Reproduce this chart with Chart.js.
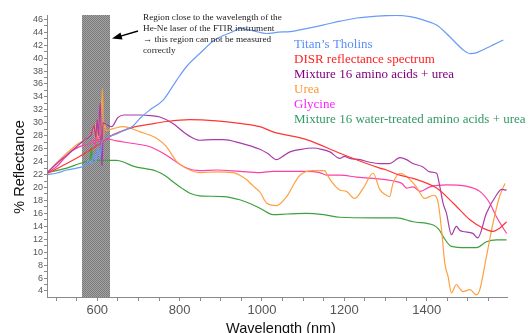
<!DOCTYPE html>
<html>
<head>
<meta charset="utf-8">
<title>Reflectance spectra</title>
<script src="https://cdn.jsdelivr.net/npm/chart.js@4.4.1/dist/chart.umd.min.js"></script>
<style>
  html, body { margin: 0; padding: 0; background: #fff; }
  #chart { display: block; }
</style>
</head>
<body>
<canvas id="chart" width="531" height="333"></canvas>
<script>
// series labels (legend order)
var seriesLabels = [
    'Titan\u2019s Tholins',
    'DISR reflectance spectrum',
    'Mixture 16 amino acids + urea',
    'Urea',
    'Glycine',
    'Mixture 16 water-treated amino acids + urea'
];

// Titan's Tholins
var tholinsX = [480, 500, 526, 550, 570, 580, 586, 592, 597, 602, 607, 611, 615, 640, 665, 687, 704, 728, 760, 793, 817, 849, 885, 930, 946, 980, 1011, 1040, 1068, 1110, 1148, 1190, 1230, 1280, 1327, 1360, 1391, 1424, 1456, 1488, 1505, 1520, 1537, 1560, 1586];
var tholinsY = [22.0, 22.2, 22.7, 23.0, 23.4, 24.2, 23.5, 25.2, 24.0, 26.2, 24.6, 27.0, 27.4, 28.1, 28.8, 29.5, 30.7, 32.0, 33.5, 36.6, 38.7, 40.7, 42.8, 44.1, 44.6, 44.2, 43.8, 44.0, 44.1, 44.6, 45.1, 45.7, 46.2, 46.5, 46.6, 46.4, 45.9, 45.1, 43.3, 41.3, 40.7, 40.8, 41.3, 42.0, 42.8];

// DISR reflectance spectrum
var disrX = [480, 520, 560, 590, 607, 631, 655, 687, 730, 768, 825, 890, 946, 995, 1027, 1108, 1189, 1254, 1286, 1302, 1335, 1367, 1424, 1464, 1505, 1537, 1561, 1577, 1594];
var disrY = [22.2, 23.5, 24.9, 26.1, 26.8, 27.9, 28.6, 29.3, 29.8, 30.2, 30.5, 30.3, 29.9, 29.4, 28.6, 27.4, 25.3, 23.7, 23.0, 22.7, 21.9, 21.4, 19.9, 17.6, 15.0, 13.7, 13.2, 13.7, 14.7];

// Mixture 16 amino acids + urea
var mixX = [480, 500, 526, 550, 570, 585, 592, 596, 600, 603, 606, 608, 610, 612, 614, 620, 635, 650, 665, 704, 730, 752, 784, 805, 825, 849, 880, 906, 946, 995, 1015, 1035, 1050, 1068, 1095, 1124, 1145, 1165, 1189, 1200, 1213, 1238, 1262, 1286, 1310, 1335, 1351, 1367, 1390, 1408, 1424, 1432, 1440, 1448, 1460, 1472, 1480, 1488, 1512, 1524, 1545, 1569, 1582, 1594];
var mixY = [22.4, 23.6, 25.0, 26.3, 27.4, 28.2, 29.6, 27.8, 30.5, 28.0, 32.0, 33.0, 25.0, 23.4, 30.0, 29.8, 29.4, 30.8, 31.2, 31.2, 31.1, 30.9, 29.9, 28.8, 27.9, 27.3, 27.4, 27.4, 26.9, 25.9, 25.2, 24.3, 24.8, 25.5, 25.9, 26.1, 25.9, 25.5, 24.5, 24.8, 24.5, 24.3, 23.9, 23.7, 23.7, 24.6, 24.3, 23.7, 23.2, 22.4, 22.2, 20.1, 17.5, 16.0, 12.7, 14.0, 13.4, 13.2, 12.9, 12.2, 16.0, 18.8, 19.7, 19.6];

// Urea
var ureaX = [480, 501, 526, 550, 574, 586, 590, 594, 598, 602, 605, 608, 611, 613, 615, 617, 622, 639, 663, 704, 744, 768, 793, 825, 849, 890, 930, 946, 963, 979, 995, 1011, 1035, 1060, 1080, 1092, 1124, 1152, 1160, 1169, 1189, 1205, 1225, 1246, 1270, 1286, 1302, 1310, 1318, 1335, 1351, 1375, 1395, 1416, 1428, 1436, 1444, 1452, 1460, 1472, 1480, 1488, 1505, 1521, 1529, 1545, 1561, 1577, 1590];
var ureaY = [22.4, 23.8, 25.3, 26.6, 27.6, 28.4, 29.5, 27.8, 30.2, 27.5, 31.0, 28.0, 33.0, 35.3, 27.3, 30.0, 28.8, 29.1, 29.4, 28.6, 27.6, 26.3, 24.0, 22.7, 22.3, 22.4, 22.3, 21.9, 21.2, 20.2, 19.3, 17.6, 17.2, 18.6, 20.8, 21.9, 22.6, 22.6, 21.8, 20.9, 19.6, 19.4, 18.3, 19.9, 22.2, 19.7, 18.8, 18.6, 20.6, 22.2, 21.7, 20.1, 18.3, 18.8, 17.6, 13.5, 8.3, 6.2, 3.7, 5.0, 4.4, 3.9, 4.2, 3.4, 4.2, 9.3, 14.5, 18.6, 20.6];

// Glycine
var glyX = [480, 501, 520, 542, 565, 582, 590, 595, 598, 602, 606, 610, 615, 647, 687, 728, 760, 784, 817, 849, 890, 946, 995, 1027, 1108, 1140, 1157, 1189, 1230, 1270, 1300, 1327, 1340, 1351, 1367, 1384, 1408, 1448, 1496, 1529, 1553, 1569, 1594];
var glyY = [22.3, 23.2, 24.5, 25.8, 26.5, 26.8, 27.3, 26.6, 28.2, 27.0, 29.5, 26.0, 27.6, 27.2, 26.8, 26.3, 25.3, 24.3, 23.0, 22.6, 22.7, 22.5, 22.3, 22.5, 22.5, 22.3, 21.9, 21.9, 21.6, 21.4, 21.2, 20.9, 20.6, 19.9, 20.1, 19.4, 20.1, 20.4, 20.2, 19.4, 17.6, 15.5, 12.9];

// Mixture 16 water-treated amino acids + urea
var waterX = [480, 500, 526, 558, 575, 582, 586, 588, 590, 600, 620, 647, 665, 687, 744, 765, 784, 805, 825, 849, 906, 946, 975, 995, 1027, 1060, 1108, 1150, 1189, 1270, 1327, 1367, 1416, 1430, 1440, 1460, 1496, 1521, 1545, 1569, 1594];
var waterY = [22.3, 22.6, 23.0, 23.7, 24.0, 24.2, 26.1, 24.2, 24.2, 24.2, 24.2, 24.2, 23.9, 23.3, 22.5, 21.8, 20.9, 19.9, 19.1, 18.7, 18.6, 18.1, 17.4, 16.8, 15.8, 15.9, 16.0, 15.8, 15.4, 15.3, 15.3, 14.7, 14.2, 13.5, 12.4, 10.9, 10.7, 10.7, 11.6, 11.9, 11.9];

// region of the He-Ne laser (nm)
var laserBand = [564, 633];

var lineColors = ['#6a9cf6', '#ff3636', '#a83ca8', '#ffa040', '#ff3fa6', '#3fa03f'];
var textColors = ['#5b8ff9', '#ff2020', '#800080', '#ff9933', '#ff22ff', '#339966'];

function pts(xs, ys) {
    var out = [];
    for (var i = 0; i < xs.length; i++) out.push({ x: xs[i], y: ys[i] });
    return out;
}

var allX = [tholinsX, disrX, mixX, ureaX, glyX, waterX];
var allY = [tholinsY, disrY, mixY, ureaY, glyY, waterY];
var datasets = [];
for (var i = 0; i < seriesLabels.length; i++) {
    datasets.push({
        label: seriesLabels[i],
        data: pts(allX[i], allY[i]),
        borderColor: lineColors[i],
        backgroundColor: lineColors[i],
        borderWidth: 1.2,
        pointRadius: 0,
        cubicInterpolationMode: 'monotone',
        fill: false
    });
}

// checkered grey pattern for the laser band
function makePattern(ctx) {
    var c = document.createElement('canvas');
    c.width = 2; c.height = 2;
    var p = c.getContext('2d');
    p.fillStyle = '#a4a4a4'; p.fillRect(0, 0, 2, 2);
    p.fillStyle = '#7a7a7a'; p.fillRect(0, 0, 1, 1); p.fillRect(1, 1, 1, 1);
    return ctx.createPattern(c, 'repeat');
}

var decorPlugin = {
    id: 'decor',
    beforeDatasetsDraw: function (chart) {
        var ctx = chart.ctx, xs = chart.scales.x, area = chart.chartArea;
        var x0 = xs.getPixelForValue(laserBand[0]);
        var x1 = xs.getPixelForValue(laserBand[1]);
        ctx.save();
        ctx.fillStyle = makePattern(ctx);
        ctx.fillRect(Math.round(x0), area.top, Math.round(x1 - x0), area.bottom - area.top);
        ctx.restore();
    },
    afterDraw: function (chart) {
        var ctx = chart.ctx, area = chart.chartArea;
        ctx.save();
        // axis titles
        ctx.fillStyle = '#111';
        ctx.font = '14.5px "Liberation Sans", Arial, sans-serif';
        ctx.textAlign = 'center';
        ctx.textBaseline = 'alphabetic';
        ctx.fillText('Wavelength (nm)', (area.left + area.right) / 2 + 4, 333);
        ctx.translate(24, 167);
        ctx.rotate(-Math.PI / 2);
        ctx.fillText('% Reflectance', 0, 0);
        ctx.restore();

        // legend text
        ctx.save();
        ctx.font = '13px "Liberation Serif", "Times New Roman", serif';
        ctx.textAlign = 'left';
        ctx.textBaseline = 'middle';
        for (var i = 0; i < seriesLabels.length; i++) {
            ctx.fillStyle = textColors[i];
            ctx.fillText(seriesLabels[i], 294, 45 + i * 15);
        }
        ctx.restore();

        // note about the laser region
        ctx.save();
        ctx.font = '9.2px "Liberation Serif", "Times New Roman", serif';
        ctx.fillStyle = '#222';
        ctx.textBaseline = 'middle';
        var note = ['Region close to the wavelength of the',
                    'He-Ne laser of the FTIR instrument',
                    '\u2192 this region can not be measured',
                    'correctly'];
        for (var j = 0; j < note.length; j++) ctx.fillText(note[j], 143, 17.5 + j * 11);
        // arrow
        ctx.strokeStyle = '#000';
        ctx.fillStyle = '#000';
        ctx.lineWidth = 1.5;
        ctx.beginPath();
        ctx.moveTo(138, 31);
        ctx.lineTo(119, 36.6);
        ctx.stroke();
        ctx.beginPath();
        ctx.moveTo(112, 38.6);
        ctx.lineTo(120.5, 32.5);
        ctx.lineTo(122.5, 39.5);
        ctx.closePath();
        ctx.fill();
        ctx.restore();
    }
};

var ctx = document.getElementById('chart').getContext('2d');
new Chart(ctx, {
    type: 'line',
    data: { datasets: datasets },
    options: {
        responsive: false,
        animation: false,
        layout: { padding: { top: 15, right: 24, left: 0, bottom: 0 } },
        plugins: { legend: { display: false }, tooltip: { enabled: false } },
        scales: {
            x: {
                type: 'linear',
                min: 478,
                max: 1595,
                afterBuildTicks: function (scale) {
                    var t = [];
                    for (var v = 500; v <= 1550; v += 50) t.push({ value: v });
                    scale.ticks = t;
                },
                afterFit: function (scale) { scale.height = 36; },
                grid: { drawOnChartArea: false, tickLength: 4, color: '#8a8a8a' },
                border: { color: '#8a8a8a' },
                ticks: {
                    padding: 2,
                    maxRotation: 0,
                    autoSkip: false,
                    color: '#555',
                    font: { family: '"Liberation Sans", Arial, sans-serif', size: 13 },
                    callback: function (v) { return v % 200 === 0 ? String(v) : ''; }
                }
            },
            y: {
                min: 3.07,
                max: 46.66,
                afterBuildTicks: function (scale) {
                    var t = [];
                    for (var v = 4; v <= 46; v += 1) t.push({ value: v });
                    scale.ticks = t;
                },
                afterFit: function (scale) { scale.width = 47; },
                grid: { drawOnChartArea: false, tickLength: 3, color: '#8a8a8a' },
                border: { color: '#8a8a8a' },
                ticks: {
                    padding: 1,
                    autoSkip: false,
                    color: '#555',
                    font: { family: '"Liberation Sans", Arial, sans-serif', size: 9 },
                    callback: function (v) { return v % 2 === 0 ? String(v) : ''; }
                }
            }
        }
    },
    plugins: [decorPlugin]
});
</script>
</body>
</html>
